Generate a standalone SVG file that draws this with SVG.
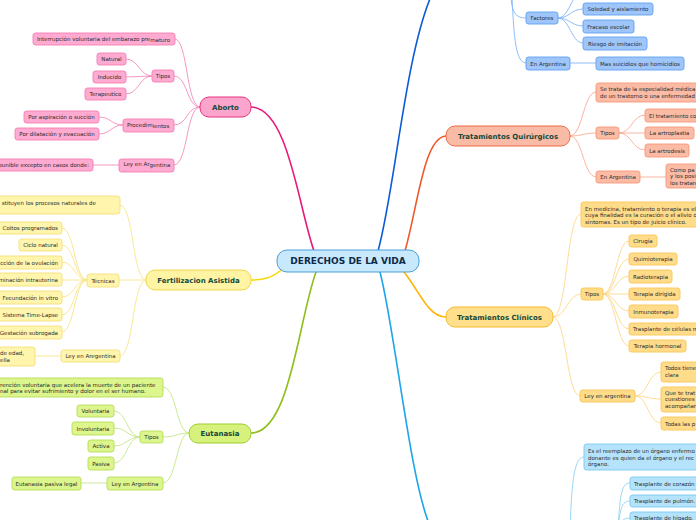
<svg xmlns="http://www.w3.org/2000/svg" width="696" height="520" viewBox="0 0 696 520">
<style>
text{font-family:"DejaVu Sans","Liberation Sans",sans-serif;}
.t{font-size:5.5px;fill:#2b2b2b;}
.tm{text-anchor:middle;}
.te{text-anchor:end;}
.mt{font-size:7px;font-weight:bold;fill:#14483a;text-anchor:middle;}
.c{fill:none;stroke-linecap:round;}
.pk{fill:#ffaad0;stroke:#f47fb2;stroke-width:0.9;}
.yl{fill:#fff5ad;stroke:#f5e07a;stroke-width:0.9;}
.gr{fill:#dcf58c;stroke:#b6de55;stroke-width:0.9;}
.bl{fill:#9fc6fb;stroke:#5f9ff0;stroke-width:0.9;}
.or{fill:#fbbba5;stroke:#f5987a;stroke-width:0.9;}
.oy{fill:#ffdc8a;stroke:#fcc556;stroke-width:0.9;}
.lb{fill:#b5e3fb;stroke:#79c9f2;stroke-width:0.9;}
.cpk{stroke:#f48cbb;stroke-width:0.9;}
.cyl{stroke:#f8e58a;stroke-width:0.9;}
.cgr{stroke:#c5e68a;stroke-width:0.9;}
.cbl{stroke:#84b5f6;stroke-width:0.9;}
.cor{stroke:#f8ad95;stroke-width:0.9;}
.coy{stroke:#fdd88a;stroke-width:0.9;}
.clb{stroke:#90d3f5;stroke-width:0.9;}
</style>
<rect width="696" height="520" fill="#ffffff"/>
<g id="connectors">
  <path class="c" stroke="#e8197a" stroke-width="1.6" d="M314,251 C298,205 288,108 251,107"/>
  <path class="c" stroke="#0b5ad8" stroke-width="1.6" d="M378,251 C395,190 405,55 432,-6"/>
  <path class="c" stroke="#f0582a" stroke-width="1.6" d="M405,251 C418,205 424,137 446,136"/>
  <path class="c" stroke="#f5d90a" stroke-width="1.6" d="M284,268 C272,278 264,280 251,280"/>
  <path class="c" stroke="#8dbf1a" stroke-width="1.6" d="M316,272 C298,322 290,433 251,433"/>
  <path class="c" stroke="#ffb300" stroke-width="1.6" d="M404,272 C420,292 428,317 446,317"/>
  <path class="c" stroke="#1ba5ea" stroke-width="1.6" d="M380,272 C395,330 410,480 430,526"/>
  <path class="c cpk" d="M200,107 C186,107 188,39 175,39"/>
  <path class="c cpk" d="M200,107 C186,107 188,76 174,76"/>
  <path class="c cpk" d="M200,107 C186,107 188,125 174,125"/>
  <path class="c cpk" d="M200,107 C186,107 188,165 174,165"/>
  <path class="c cpk" d="M152,76 C139,76 139,59 126,59"/>
  <path class="c cpk" d="M152,76 L126,77"/>
  <path class="c cpk" d="M152,76 C139,76 139,94 126,94"/>
  <path class="c cpk" d="M123,125 C111,125 111,117 99,117"/>
  <path class="c cpk" d="M123,125 C111,125 111,134 99,134"/>
  <path class="c cpk" d="M119,165 L93,165"/>
  <path class="c cyl" d="M146,280 C132,280 134,205 120,205"/>
  <path class="c cyl" d="M146,280 L119,280"/>
  <path class="c cyl" d="M146,280 C132,280 134,356 120,356"/>
  <path class="c cyl" d="M87,280 C74,280 75,228 62,228"/>
  <path class="c cyl" d="M87,280 C74,280 75,245 62,245"/>
  <path class="c cyl" d="M87,280 C74,280 75,262 62,262"/>
  <path class="c cyl" d="M87,280 L62,280"/>
  <path class="c cyl" d="M87,280 C74,280 75,297 62,297"/>
  <path class="c cyl" d="M87,280 C74,280 75,315 62,315"/>
  <path class="c cyl" d="M87,280 C74,280 75,332 62,332"/>
  <path class="c cyl" d="M61,356 L35,356"/>
  <path class="c cgr" d="M189,433 C176,433 177,387 163,387"/>
  <path class="c cgr" d="M189,433 C176,433 177,437 163,437"/>
  <path class="c cgr" d="M189,433 C176,433 177,483 163,483"/>
  <path class="c cgr" d="M140,437 C127,437 127,411 114,411"/>
  <path class="c cgr" d="M140,437 C127,437 127,428 114,428"/>
  <path class="c cgr" d="M140,437 C127,437 127,446 114,446"/>
  <path class="c cgr" d="M140,437 C127,437 127,463 114,463"/>
  <path class="c cgr" d="M107,483 L81,483"/>
  <path class="c cbl" d="M511,-3 C512,12 515,18 526,18"/>
  <path class="c cbl" d="M512,-3 C514,40 516,63 526,63"/>
  <path class="c cbl" d="M558,18 C570,18 571,-8 583,-8"/>
  <path class="c cbl" d="M558,18 C570,18 571,9 583,9"/>
  <path class="c cbl" d="M558,18 C570,18 571,26 583,26"/>
  <path class="c cbl" d="M558,18 C570,18 571,43 583,43"/>
  <path class="c cbl" d="M570,63 L596,63"/>
  <path class="c cor" d="M570,136 C583,136 583,92 596,92"/>
  <path class="c cor" d="M570,136 C583,136 583,133 596,133"/>
  <path class="c cor" d="M570,136 C583,136 583,177 596,177"/>
  <path class="c cor" d="M619,133 C632,133 632,115 645,115"/>
  <path class="c cor" d="M619,133 L645,133"/>
  <path class="c cor" d="M619,133 C632,133 632,150 645,150"/>
  <path class="c cor" d="M640,177 L666,177"/>
  <path class="c coy" d="M553,317 C568,317 566,214 581,214"/>
  <path class="c coy" d="M553,317 C567,317 567,294 581,294"/>
  <path class="c coy" d="M553,317 C567,317 566,396 580,396"/>
  <path class="c coy" d="M603,294 C616,294 616,241 629,241"/>
  <path class="c coy" d="M603,294 C616,294 616,259 629,259"/>
  <path class="c coy" d="M603,294 C616,294 616,276 629,276"/>
  <path class="c coy" d="M603,294 L629,294"/>
  <path class="c coy" d="M603,294 C616,294 616,311 629,311"/>
  <path class="c coy" d="M603,294 C616,294 616,329 629,329"/>
  <path class="c coy" d="M603,294 C616,294 616,346 629,346"/>
  <path class="c coy" d="M635,396 C648,396 648,372 661,372"/>
  <path class="c coy" d="M635,396 C648,396 648,399 661,399"/>
  <path class="c coy" d="M635,396 C648,396 648,423 661,423"/>
  <path class="c clb" d="M570,528 C572,480 574,457 584,457"/>
  <path class="c clb" d="M618,530 C620,492 622,483 630,483"/>
  <path class="c clb" d="M618,530 C620,508 622,501 630,501"/>
  <path class="c clb" d="M618,530 C620,522 622,518 630,518"/>
</g>
<g id="center">
  <rect x="277" y="250" width="142" height="22" rx="10" fill="#c8e9fb" stroke="#4a9fd8" stroke-width="1"/>
  <text x="348" y="264.3" text-anchor="middle" font-size="9" font-weight="bold" fill="#0d2a4a">DERECHOS DE LA VIDA</text>
</g>
<g id="aborto">
  <rect x="200" y="97" width="51" height="20" rx="9" fill="#fca5cc" stroke="#e6337f" stroke-width="1"/>
  <text class="mt" x="225.5" y="109.8">Aborto</text>
  <rect class="pk" x="33" y="33" width="142" height="12" rx="2.5"/>
  <text class="t" x="37" y="41">Interrupción voluntaria del embarazo pre<tspan dy="1.2">maturo</tspan></text>
  <rect class="pk" x="152" y="70" width="22" height="12" rx="2.5"/>
  <text class="t tm" x="163" y="78">Tipos</text>
  <rect class="pk" x="97" y="53" width="29" height="12" rx="2.5"/>
  <text class="t tm" x="111.5" y="61">Natural</text>
  <rect class="pk" x="93" y="71" width="33" height="12" rx="2.5"/>
  <text class="t tm" x="109.5" y="79">Inducido</text>
  <rect class="pk" x="85" y="88" width="41" height="12" rx="2.5"/>
  <text class="t tm" x="105.5" y="96">Terapeutico</text>
  <rect class="pk" x="123" y="119" width="51" height="13" rx="2.5"/>
  <text class="t" x="127" y="126.5">Procedim<tspan dy="1.2">ientos</tspan></text>
  <rect class="pk" x="24" y="111" width="75" height="12" rx="2.5"/>
  <text class="t tm" x="61.5" y="119">Por aspiración o succión</text>
  <rect class="pk" x="15" y="128" width="84" height="12" rx="2.5"/>
  <text class="t tm" x="57" y="136">Por dilatación y evacuación</text>
  <rect class="pk" x="119" y="159" width="55" height="13" rx="2.5"/>
  <text class="t" x="123.5" y="166">Ley en Ar<tspan dy="1.2">gentina</tspan></text>
  <rect class="pk" x="-10" y="159" width="103" height="12" rx="2.5"/>
  <text class="t te" x="89" y="167">ounible excepto en casos donde:</text>
</g>
<g id="fertilizacion">
  <rect x="146" y="270" width="105" height="20" rx="9" fill="#fff4a3" stroke="#f3d54a" stroke-width="1"/>
  <text class="mt" x="198.5" y="282.6">Fertilizacion Asistida</text>
  <rect class="yl" x="-20" y="196" width="140" height="18" rx="2.5"/>
  <text class="t te" x="96" y="204.5">stituyen los procesos naturales de</text>
  <rect class="yl" x="87" y="274" width="32" height="13" rx="2.5"/>
  <text class="t tm" x="103" y="282.5">Técnicas</text>
  <rect class="yl" x="-5" y="222" width="67" height="12" rx="2.5"/>
  <text class="t te" x="58" y="230">Coitos programados</text>
  <rect class="yl" x="19" y="239" width="43" height="12" rx="2.5"/>
  <text class="t tm" x="40.5" y="247">Ciclo natural</text>
  <rect class="yl" x="-10" y="256" width="72" height="13" rx="2.5"/>
  <text class="t te" x="58" y="264.5">cción de la ovulación</text>
  <rect class="yl" x="-10" y="273" width="72" height="13" rx="2.5"/>
  <text class="t te" x="58" y="281.5">minación intrauterina</text>
  <rect class="yl" x="-5" y="291" width="67" height="13" rx="2.5"/>
  <text class="t te" x="58" y="299.5">Fecundación in vitro</text>
  <rect class="yl" x="-5" y="308" width="67" height="13" rx="2.5"/>
  <text class="t te" x="58" y="316.5">Sistema Time-Lapse</text>
  <rect class="yl" x="-5" y="326" width="67" height="13" rx="2.5"/>
  <text class="t te" x="58" y="334.5">Gestación subrogada</text>
  <rect class="yl" x="61" y="350" width="59" height="12" rx="2.5"/>
  <text class="t tm" x="90.5" y="358">Ley en Aregentina</text>
  <rect class="yl" x="-10" y="347" width="45" height="19" rx="2.5"/>
  <text class="t" x="0" y="354.5">de edad,</text>
  <text class="t" x="0" y="361.5">ella</text>
</g>
<g id="eutanasia">
  <rect x="189" y="424" width="62" height="19" rx="9" fill="#d6f27c" stroke="#9fcc30" stroke-width="1"/>
  <text class="mt" x="220" y="436">Eutanasia</text>
  <rect class="gr" x="-10" y="378" width="173" height="19" rx="2.5"/>
  <text class="t" x="0" y="386.5">rención voluntaria que acelera la muerte de un paciente</text>
  <text class="t" x="0" y="393">nal para evitar sufrimiento y dolor en el ser humano.</text>
  <rect class="gr" x="140" y="431" width="23" height="12" rx="2.5"/>
  <text class="t tm" x="151.5" y="439">Tipos</text>
  <rect class="gr" x="77" y="405" width="37" height="12" rx="2.5"/>
  <text class="t tm" x="95.5" y="413">Voluntaria</text>
  <rect class="gr" x="72" y="422" width="42" height="13" rx="2.5"/>
  <text class="t tm" x="93" y="430.5">Involuntaria</text>
  <rect class="gr" x="88" y="440" width="26" height="12" rx="2.5"/>
  <text class="t tm" x="101" y="448">Activa</text>
  <rect class="gr" x="88" y="457" width="26" height="13" rx="2.5"/>
  <text class="t tm" x="101" y="465.5">Pasiva</text>
  <rect class="gr" x="107" y="477" width="56" height="13" rx="2.5"/>
  <text class="t tm" x="135" y="485.5">Ley en Argentina</text>
  <rect class="gr" x="12" y="477" width="69" height="13" rx="2.5"/>
  <text class="t tm" x="46.5" y="485.5">Eutanasia pasiva legal</text>
</g>
<g id="suicidio">
  <rect class="bl" x="526" y="12" width="32" height="12" rx="2.5"/>
  <text class="t tm" x="542" y="20">Factores</text>
  <rect class="bl" x="583" y="3" width="70" height="12" rx="2.5"/>
  <text class="t tm" x="618" y="11">Soledad y aislamiento</text>
  <rect class="bl" x="583" y="20" width="51" height="13" rx="2.5"/>
  <text class="t tm" x="608.5" y="28.5">Fracaso escolar</text>
  <rect class="bl" x="583" y="37" width="64" height="13" rx="2.5"/>
  <text class="t tm" x="615" y="45.5">Riesgo de imitación</text>
  <rect class="bl" x="526" y="57" width="44" height="13" rx="2.5"/>
  <text class="t tm" x="548" y="65.5">En Argentina</text>
  <rect class="bl" x="596" y="57" width="88" height="13" rx="2.5"/>
  <text class="t tm" x="640" y="65.5">Mas suicidios que homicidios</text>
</g>
<g id="quirurgicos">
  <rect x="446" y="126" width="124" height="20" rx="9" fill="#f9bba5" stroke="#f06a45" stroke-width="1"/>
  <text class="mt" x="508" y="138.6">Tratamientos Quirúrgicos</text>
  <rect class="or" x="596" y="83" width="110" height="19" rx="2.5"/>
  <text class="t" x="600" y="91">Se trata de la especialidad médica</text>
  <text class="t" x="600" y="97.5">de un trastorno o una enfermedad</text>
  <rect class="or" x="596" y="127" width="23" height="12" rx="2.5"/>
  <text class="t tm" x="607.5" y="135">Tipos</text>
  <rect class="or" x="645" y="109" width="60" height="13" rx="2.5"/>
  <text class="t" x="649" y="117.5">El tratamiento co</text>
  <rect class="or" x="645" y="127" width="49" height="12" rx="2.5"/>
  <text class="t tm" x="669.5" y="135">La artroplastia</text>
  <rect class="or" x="645" y="144" width="44" height="13" rx="2.5"/>
  <text class="t tm" x="667" y="152.5">La artrodesis</text>
  <rect class="or" x="596" y="171" width="44" height="12" rx="2.5"/>
  <text class="t tm" x="618" y="179">En Argentina</text>
  <rect class="or" x="666" y="164" width="40" height="24" rx="2.5"/>
  <text class="t" x="670" y="171.5">Como pa</text>
  <text class="t" x="670" y="178">y los posi</text>
  <text class="t" x="670" y="184.5">los tratan</text>
</g>
<g id="clinicos">
  <rect x="446" y="307" width="107" height="20" rx="9" fill="#ffdf8c" stroke="#f8b92b" stroke-width="1"/>
  <text class="mt" x="499.5" y="319.6">Tratamientos Clínicos</text>
  <rect class="oy" x="581" y="202" width="125" height="25" rx="2.5"/>
  <text class="t" x="585" y="210.5">En medicina, tratamiento o terapia  es el</text>
  <text class="t" x="585" y="217">cuya finalidad es la curación o el alivio d</text>
  <text class="t" x="585" y="223.5">síntomas. Es un tipo de juicio clínico.</text>
  <rect class="oy" x="581" y="288" width="22" height="12" rx="2.5"/>
  <text class="t tm" x="592" y="296">Tipos</text>
  <rect class="oy" x="629" y="235" width="28" height="12" rx="2.5"/>
  <text class="t tm" x="643" y="243">Cirugía</text>
  <rect class="oy" x="629" y="253" width="48" height="12" rx="2.5"/>
  <text class="t tm" x="653" y="261">Quimioterapia</text>
  <rect class="oy" x="629" y="270" width="43" height="13" rx="2.5"/>
  <text class="t tm" x="650.5" y="278.5">Radioterapia</text>
  <rect class="oy" x="629" y="288" width="51" height="12" rx="2.5"/>
  <text class="t tm" x="654.5" y="296">Terapia dirigida</text>
  <rect class="oy" x="629" y="305" width="49" height="13" rx="2.5"/>
  <text class="t tm" x="653.5" y="313.5">Inmunoterapia</text>
  <rect class="oy" x="629" y="323" width="80" height="12" rx="2.5"/>
  <text class="t" x="633" y="331">Trasplante de células m</text>
  <rect class="oy" x="629" y="340" width="57" height="12" rx="2.5"/>
  <text class="t tm" x="657.5" y="348">Terapia hormonal</text>
  <rect class="oy" x="580" y="390" width="55" height="12" rx="2.5"/>
  <text class="t tm" x="607.5" y="398">Ley en argentina</text>
  <rect class="oy" x="661" y="362" width="45" height="20" rx="2.5"/>
  <text class="t" x="665" y="370">Todos tiene</text>
  <text class="t" x="665" y="376.5">clara</text>
  <rect class="oy" x="661" y="387" width="45" height="25" rx="2.5"/>
  <text class="t" x="665" y="394.5">Que te trat</text>
  <text class="t" x="665" y="401">cuestiones</text>
  <text class="t" x="665" y="407.5">acompañar</text>
  <rect class="oy" x="661" y="417" width="45" height="13" rx="2.5"/>
  <text class="t" x="665" y="425.5">Todas las p</text>
</g>
<g id="trasplantes">
  <rect class="lb" x="584" y="444" width="122" height="26" rx="2.5"/>
  <text class="t" x="588" y="453">Es el reemplazo de un órgano enfermo</text>
  <text class="t" x="588" y="459.5">donante es quien da el órgano y el rec</text>
  <text class="t" x="588" y="466">órgano.</text>
  <rect class="lb" x="630" y="477" width="75" height="13" rx="2.5"/>
  <text class="t" x="634" y="485.5">Trasplante de corazón</text>
  <rect class="lb" x="630" y="495" width="75" height="12" rx="2.5"/>
  <text class="t" x="634" y="503">Trasplante de pulmón.</text>
  <rect class="lb" x="630" y="512" width="75" height="13" rx="2.5"/>
  <text class="t" x="634" y="520">Trasplante de hígado.</text>
</g>
</svg>
